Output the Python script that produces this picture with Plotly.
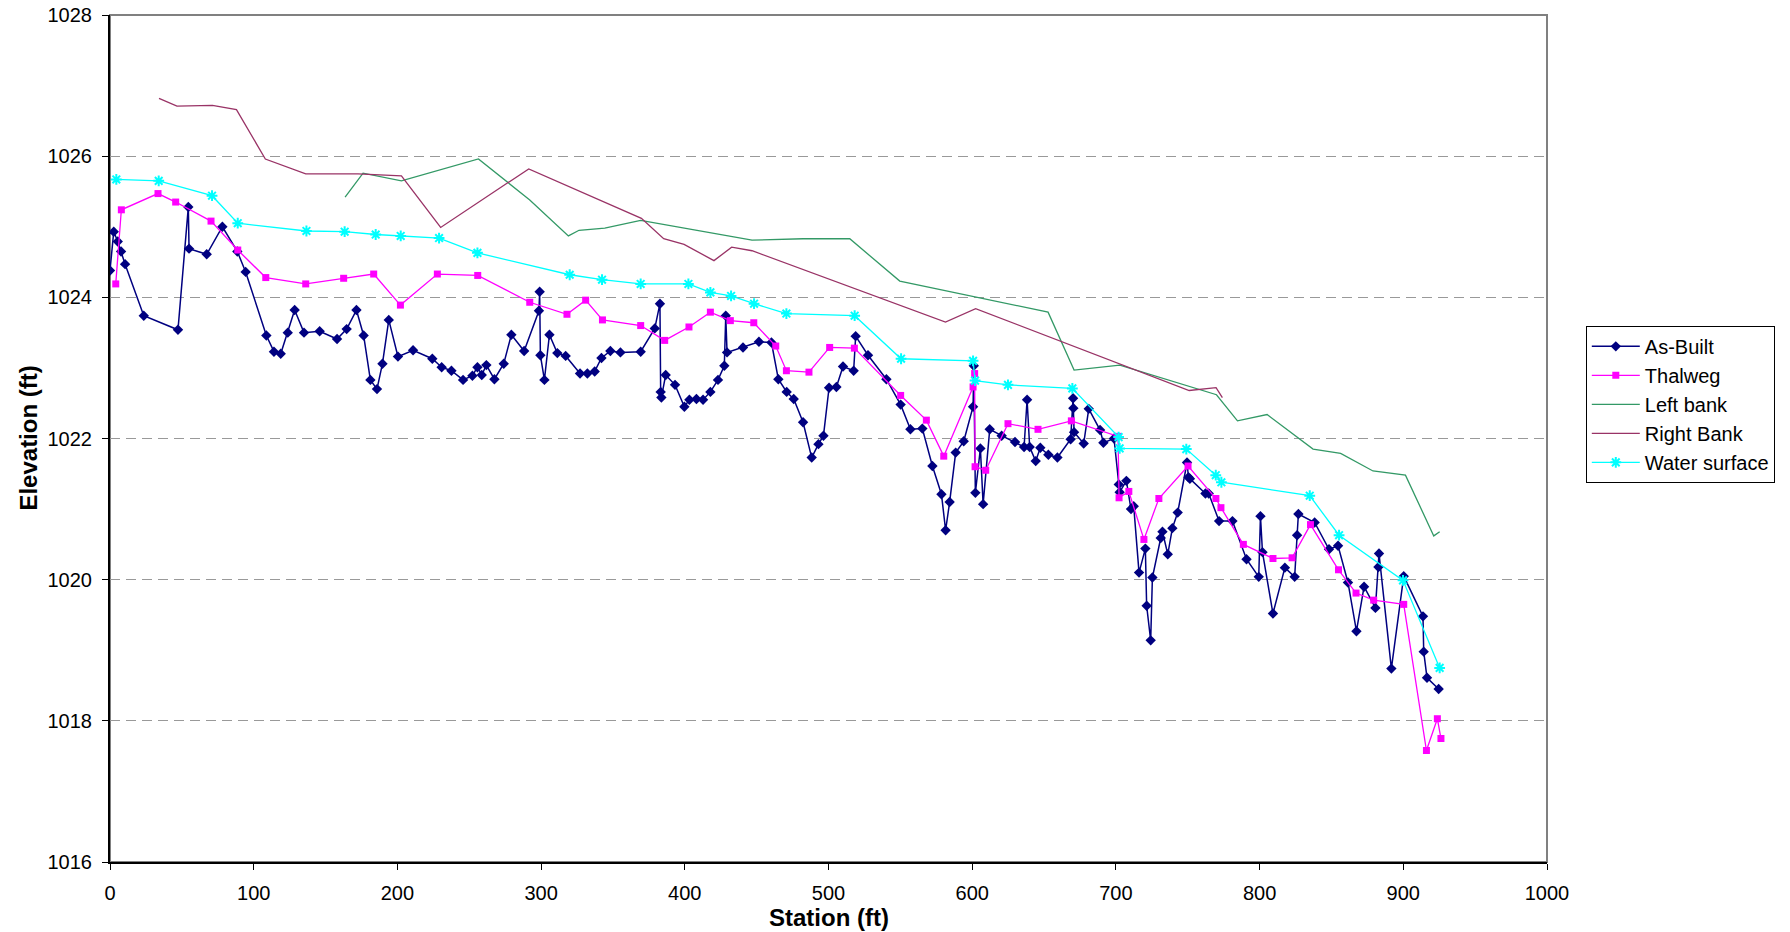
import plotly.graph_objects as go

# ---------------- data ----------------
asbuilt_x = [0, 2.6, 5.4, 7.7, 10.5, 23.5, 47.3, 54.5, 55.0, 67.3, 78.2, 88.6, 94.4, 108.8, 114.1, 118.8,
             123.7, 128.5, 135.0, 145.9, 158.0, 164.7, 171.5, 176.5, 181.2, 185.8, 189.6, 194.0, 200.4,
             210.9, 224.3, 230.8, 237.6, 245.7, 252.2, 255.7, 258.7, 261.9, 267.5, 274.0, 279.3, 288.2,
             298.5, 299.0, 299.5, 302.3, 305.8, 311.3, 317.1, 327.1, 332.2, 337.3, 342.0, 348.2, 355.2,
             369.3, 379.1, 382.7, 383.2, 383.7, 386.7, 393.2, 399.7, 403.2, 408.1, 412.7, 417.8, 423.1,
             427.5, 428.5, 429.4, 440.5, 451.6, 460.3, 465.1, 470.9, 475.8, 482.3, 488.3, 493.0, 496.5,
             500.4, 505.5, 510.1, 517.5, 518.9, 527.5, 540.3, 550.2, 557.0, 565.3, 572.3, 578.6, 581.5,
             584.3, 588.5, 594.1, 600.6, 601.1, 602.2, 605.7, 607.6, 612.2, 620.5, 629.8, 636.1, 638.2,
             640.0, 644.2, 647.4, 653.0, 659.3, 668.5, 670.2, 670.4, 670.9, 677.6, 681.1, 689.0, 691.3,
             698.7, 702.0, 702.6, 707.3, 710.5, 712.4, 716.1, 720.5, 721.4, 724.2, 725.4, 731.2, 732.4,
             736.1, 739.3, 743.0, 749.5, 750.5, 751.5, 762.3, 764.6, 771.8, 781.1, 790.9, 799.4, 800.6,
             802.0, 809.3, 817.6, 824.4, 826.1, 827.0, 838.3, 848.3, 854.6, 861.5, 867.4, 872.7, 880.6,
             882.7, 883.1, 891.7, 900.3, 913.7, 914.2, 916.5, 924.6]
asbuilt_y = [1024.38, 1024.93, 1024.79, 1024.65, 1024.47, 1023.74, 1023.54, 1025.28, 1024.69, 1024.61,
             1025.00, 1024.65, 1024.36, 1023.46, 1023.23, 1023.20, 1023.50, 1023.82, 1023.50, 1023.52,
             1023.41, 1023.55, 1023.82, 1023.46, 1022.83, 1022.70, 1023.06, 1023.68, 1023.16, 1023.25,
             1023.13, 1023.01, 1022.96, 1022.83, 1022.89, 1023.01, 1022.90, 1023.04, 1022.84, 1023.06,
             1023.47, 1023.24, 1023.81, 1024.08, 1023.18, 1022.83, 1023.47, 1023.21, 1023.17, 1022.92,
             1022.92, 1022.95, 1023.14, 1023.24, 1023.22, 1023.23, 1023.56, 1023.91, 1022.66, 1022.58,
             1022.90, 1022.76, 1022.45, 1022.55, 1022.56, 1022.55, 1022.66, 1022.83, 1023.03, 1023.74,
             1023.22, 1023.29, 1023.37, 1023.36, 1022.84, 1022.66, 1022.56, 1022.23, 1021.73, 1021.92,
             1022.04, 1022.72, 1022.73, 1023.02, 1022.96, 1023.45, 1023.18, 1022.84, 1022.48, 1022.13,
             1022.14, 1021.61, 1021.21, 1020.70, 1021.10, 1021.80, 1021.96, 1022.45, 1023.03, 1021.23,
             1021.86, 1021.07, 1022.13, 1022.04, 1021.95, 1021.88, 1022.55, 1021.88, 1021.68, 1021.87,
             1021.77, 1021.73, 1021.99, 1022.57, 1022.43, 1022.09, 1021.93, 1022.42, 1022.12, 1021.94,
             1022.00, 1021.35, 1021.24, 1021.40, 1021.00, 1021.04, 1020.10, 1020.44, 1019.63, 1019.14,
             1020.03, 1020.59, 1020.68, 1020.36, 1020.73, 1020.95, 1021.66, 1021.45, 1021.43, 1021.22,
             1021.22, 1020.83, 1020.83, 1020.29, 1020.04, 1020.90, 1020.39, 1019.52, 1020.17, 1020.04,
             1020.63, 1020.93, 1020.81, 1020.43, 1020.48, 1019.96, 1019.27, 1019.90, 1019.60, 1020.18,
             1020.37, 1018.74, 1020.05, 1019.48, 1018.98, 1018.61, 1018.45]

thalweg_x = [4.0, 7.9, 33.4, 45.7, 70.3, 88.9, 108.4, 136.2, 162.6, 183.5, 202.1, 227.8, 255.9, 292.1,
             318.0, 331.0, 342.7, 369.3, 386.0, 402.9, 417.8, 431.7, 448.0, 463.3, 470.7, 486.4, 500.8,
             518.0, 550.2, 568.1, 580.2, 600.6, 601.7, 602.0, 609.4, 624.9, 645.8, 669.0, 701.5, 702.2,
             709.0, 719.5, 729.9, 750.2, 769.6, 773.1, 788.7, 809.3, 822.6, 835.4, 854.9, 867.1, 879.4,
             900.3, 916.1, 923.7, 926.2]
thalweg_y = [1024.19, 1025.24, 1025.47, 1025.35, 1025.08, 1024.67, 1024.28, 1024.19, 1024.27, 1024.33,
             1023.89, 1024.33, 1024.31, 1023.93, 1023.76, 1023.96, 1023.68, 1023.60, 1023.39, 1023.58,
             1023.79, 1023.67, 1023.64, 1023.31, 1022.96, 1022.94, 1023.29, 1023.28, 1022.61, 1022.26,
             1021.75, 1022.73, 1022.92, 1021.60, 1021.55, 1022.21, 1022.13, 1022.25, 1022.03, 1021.16,
             1021.25, 1020.57, 1021.15, 1021.61, 1021.15, 1021.02, 1020.50, 1020.30, 1020.31, 1020.78,
             1020.14, 1019.81, 1019.71, 1019.65, 1017.58, 1018.03, 1017.75]

leftbank_x = [163.6, 176.1, 202.8, 256.4, 292.1, 319.0, 326.4, 344.3, 369.3, 446.8, 482.3, 514.8, 549.6,
              652.8, 670.9, 702.7, 770.0, 784.6, 805.2, 837.2, 856.4, 878.9, 901.5, 921.2, 925.3]
leftbank_y = [1025.42, 1025.76, 1025.65, 1025.96, 1025.38, 1024.87, 1024.95, 1024.98, 1025.09, 1024.81,
              1024.83, 1024.83, 1024.23, 1023.79, 1022.97, 1023.04, 1022.62, 1022.25, 1022.34, 1021.85,
              1021.79, 1021.54, 1021.48, 1020.62, 1020.68]

rightbank_x = [34.1, 46.6, 71.3, 88.0, 108.1, 136.2, 172.6, 202.8, 230.1, 291.4, 369.8, 385.3, 399.5,
               420.3, 432.6, 446.8, 581.4, 602.4, 751.0, 769.7, 774.1]
rightbank_y = [1026.82, 1026.71, 1026.72, 1026.66, 1025.96, 1025.75, 1025.75, 1025.72, 1024.99, 1025.82,
               1025.12, 1024.83, 1024.75, 1024.52, 1024.71, 1024.66, 1023.65, 1023.84, 1022.68, 1022.72,
               1022.58]

water_x = [4.4, 33.9, 71.0, 88.9, 136.7, 163.3, 184.9, 202.3, 229.0, 255.7, 319.9, 342.4, 369.3, 402.5,
           417.8, 432.2, 448.2, 470.7, 518.2, 550.5, 600.6, 602.0, 624.9, 669.7, 701.9, 702.6, 749.0,
           769.5, 773.4, 834.9, 855.3, 899.8, 925.3]
water_y = [1025.67, 1025.65, 1025.44, 1025.05, 1024.94, 1024.93, 1024.89, 1024.87, 1024.84, 1024.63,
           1024.32, 1024.25, 1024.19, 1024.19, 1024.07, 1024.02, 1023.91, 1023.77, 1023.74, 1023.13,
           1023.10, 1022.82, 1022.76, 1022.71, 1022.02, 1021.86, 1021.85, 1021.48, 1021.38, 1021.19,
           1020.63, 1019.99, 1018.75]

# ---------------- figure ----------------
FONT = "Liberation Sans, Arial, sans-serif"
fig = go.Figure()

fig.add_trace(go.Scatter(x=asbuilt_x, y=asbuilt_y, name="As-Built", mode="lines+markers",
                         line=dict(color="#000080", width=1.5),
                         marker=dict(symbol="diamond", size=8, color="#000080")))
fig.add_trace(go.Scatter(x=thalweg_x, y=thalweg_y, name="Thalweg", mode="lines+markers",
                         line=dict(color="#FF00FF", width=1.3),
                         marker=dict(symbol="square", size=7, color="#FF00FF")))
fig.add_trace(go.Scatter(x=leftbank_x, y=leftbank_y, name="Left bank", mode="lines",
                         line=dict(color="#339966", width=1.3)))
fig.add_trace(go.Scatter(x=rightbank_x, y=rightbank_y, name="Right Bank", mode="lines",
                         line=dict(color="#993366", width=1.3)))
fig.add_trace(go.Scatter(x=water_x, y=water_y, name="Water surface", mode="lines+markers",
                         line=dict(color="#00FFFF", width=1.3),
                         marker=dict(symbol="asterisk-open", size=9, color="#00FFFF",
                                     line=dict(color="#00FFFF", width=2))))

fig.add_shape(type="rect", xref="paper", yref="paper", x0=0, x1=1, y0=0, y1=1,
              line=dict(color="#808080", width=2), layer="below")

fig.update_layout(
    width=1790, height=932,
    margin=dict(l=110, r=243, t=15, b=70, autoexpand=False),
    paper_bgcolor="white", plot_bgcolor="white",
    font=dict(family=FONT, size=20, color="black"),
    showlegend=True,
    legend=dict(x=1.027, y=0.633, xanchor="left", yanchor="top",
                bgcolor="white", bordercolor="black", borderwidth=1,
                font=dict(family=FONT, size=20, color="black"),
                itemwidth=48, tracegroupgap=0),
    xaxis=dict(range=[0, 1000], dtick=100, tick0=0, showgrid=False, zeroline=False,
               showline=True, linecolor="black", linewidth=2, automargin=False,
               ticks="outside", ticklen=6, tickcolor="black", tickwidth=1,
               tickfont=dict(family=FONT, size=20, color="black"), ticklabelstandoff=6),
    yaxis=dict(range=[1016, 1028], dtick=2, tick0=1016, showgrid=True, gridcolor="#999999",
               gridwidth=1, griddash="10px,6px", zeroline=False, automargin=False,
               showline=True, linecolor="black", linewidth=2,
               ticks="outside", ticklen=6, tickcolor="black", tickwidth=1,
               tickfont=dict(family=FONT, size=20, color="black"), ticklabelstandoff=6),
    annotations=[
        dict(text="<b>Station (ft)</b>", xref="paper", yref="paper", x=0.5, y=-0.066,
             xanchor="center", yanchor="middle", showarrow=False,
             font=dict(family=FONT, size=24, color="black")),
        dict(text="<b>Elevation (ft)</b>", xref="paper", yref="paper", x=-0.057, y=0.5,
             xanchor="center", yanchor="middle", showarrow=False, textangle=-90,
             font=dict(family=FONT, size=24, color="black")),
    ],
)

fig.write_html("out.html")
